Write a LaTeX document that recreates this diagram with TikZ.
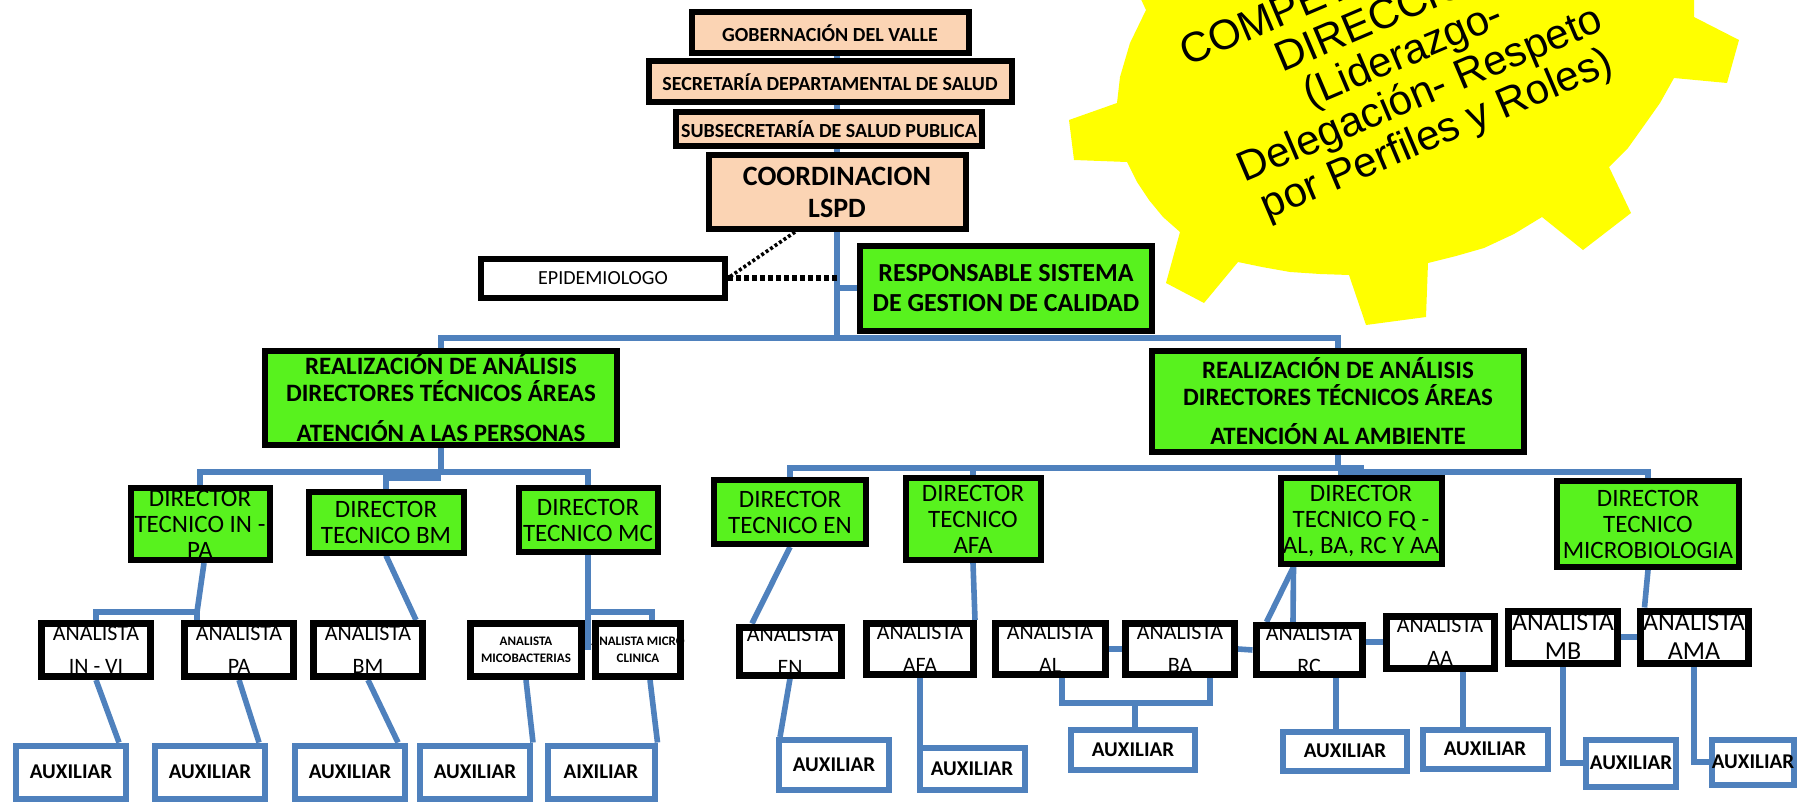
\documentclass[tikz,border=0pt]{standalone}
\usepackage{fontspec}
\setmainfont{Carlito}
\newfontfamily\arialf{Liberation Sans}
\usetikzlibrary{backgrounds}
\pgfdeclarelayer{bottom}
\pgfsetlayers{bottom,background,main}
\definecolor{peach}{RGB}{251,212,180}
\definecolor{lgreen}{RGB}{88,242,30}
\definecolor{lblue}{RGB}{79,129,189}
\definecolor{gyellow}{RGB}{255,255,0}
\tikzset{
  sz/.style 2 args={minimum width=#1*0.5pt, minimum height=#2*0.5pt},
  bk/.style={draw=black, line width=3pt, inner sep=0pt},
  topbox/.style={bk, fill=peach},
  grbox/.style={bk, fill=lgreen},
  whbox/.style={bk, fill=white},
  anbox/.style={draw=black, line width=3.5pt, fill=white, inner sep=0pt},
  auxbox/.style={draw=lblue, line width=3pt, fill=white, inner sep=0pt},
  ttop/.style={font=\bfseries\fontsize{10}{11}\selectfont, inner sep=0pt},
  tbig/.style={font=\bfseries\fontsize{14}{16}\selectfont, align=center, inner sep=0pt},
  tresp/.style={font=\bfseries\fontsize{13}{15}\selectfont, align=center, inner sep=0pt},
  treal/.style={font=\bfseries\fontsize{12.5}{13.5}\selectfont, align=center, inner sep=0pt},
  tdir/.style={font=\fontsize{12.5}{13}\selectfont, align=center, inner sep=0pt},
  tan/.style={font=\fontsize{11}{16.5}\selectfont, align=center, inner sep=0pt},
  tanb/.style={font=\fontsize{13}{14.5}\selectfont, align=center, inner sep=0pt},
  tans/.style={font=\bfseries\fontsize{6.5}{8.5}\selectfont, align=center, inner sep=0pt},
  taux/.style={font=\bfseries\fontsize{10.5}{12}\selectfont, inner sep=0pt},
  tepi/.style={font=\fontsize{10}{12}\selectfont, inner sep=0pt},
  conn/.style={draw=lblue, line width=2.8pt},
  dotl/.style={draw=black, line width=2.8pt, dash pattern=on 2.5pt off 1.5pt},
  dotd/.style={draw=black, line width=1.8pt, dash pattern=on 1.5pt off 1.2pt},
  gtxt/.style={font=\arialf\fontsize{21}{21.5}\selectfont, align=center, inner sep=0pt},
}
\begin{document}
\begin{tikzpicture}[x=0.5pt, y=-0.5pt]
\useasboundingbox (0,0) rectangle (1806,808);
\begin{pgfonlayer}{bottom}
\fill[white] (0,0) rectangle (1806,808);
\end{pgfonlayer}

% gear
\begin{scope}
\clip (0,0) rectangle (1806,808);
\fill[gyellow] (1139,-5) -- (1146,10) -- (1130,43) -- (1120,77) -- (1117,103) -- (1069,120) -- (1074,160) -- (1127,162) -- (1137,182) -- (1149,200) -- (1163,217) -- (1180,232) -- (1166,283) -- (1204,303) -- (1238,262) -- (1262,267) -- (1290,272) -- (1320,274) -- (1349,275) -- (1366,325) -- (1426,317) -- (1428,263) -- (1456,256) -- (1484,248) -- (1514,234) -- (1542,217) -- (1583,250) -- (1631,213) -- (1609,167) -- (1628,148) -- (1643,127) -- (1660,103) -- (1674,78) -- (1727,83) -- (1739,40) -- (1694,17) -- (1694,-5) -- cycle;
\node[gtxt, rotate=23] (geartext) at (1404,57) {COMPETENCIAS DE\\DIRECCIÓN\\(Liderazgo-\\Delegación- Respeto\\por Perfiles y Roles)};
\end{scope}

% top boxes
\node[topbox, sz={277}{41}, label={[ttop]center:GOBERNACIÓN DEL VALLE}] (gob) at (830,33) {};
\node[topbox, sz={363}{41}, label={[ttop]center:SECRETARÍA DEPARTAMENTAL DE SALUD}] (sec) at (830,82) {};
\node[topbox, sz={306}{34}, label={[ttop]center:SUBSECRETARÍA DE SALUD PUBLICA}] (sub) at (829,129) {};
\node[topbox, sz={257}{74}, label={[tbig]center:{COORDINACION\\LSPD}}] (coord) at (837,192) {};
\node[whbox, sz={244}{39}, label={[tepi]center:EPIDEMIOLOGO}] (epi) at (603,278) {};
\node[grbox, sz={292}{85}, label={[tresp]center:{RESPONSABLE SISTEMA\\DE GESTION DE CALIDAD}}] (resp) at (1006,288) {};

\node[grbox, sz={352}{94}, label={[treal]center:{REALIZACIÓN DE ANÁLISIS\\DIRECTORES TÉCNICOS ÁREAS\\[6.5pt]ATENCIÓN A LAS PERSONAS}}] (rp) at (441,398) {};
\node[grbox, sz={372}{101}, label={[treal]center:{REALIZACIÓN DE ANÁLISIS\\DIRECTORES TÉCNICOS ÁREAS\\[6pt]ATENCIÓN AL AMBIENTE}}] (ra) at (1338,401) {};

% directors
\node[grbox, sz={139}{72}, label={[tdir]center:{DIRECTOR\\TECNICO IN -\\PA}}] (dinpa) at (200,524) {};
\node[grbox, sz={155}{61}, label={[tdir]center:{DIRECTOR\\TECNICO BM}}] (dbm) at (386,522) {};
\node[grbox, sz={139}{64}, label={[tdir]center:{DIRECTOR\\TECNICO MC}}] (dmc) at (588,520) {};
\node[grbox, sz={152}{64}, label={[tdir]center:{DIRECTOR\\TECNICO EN}}] (den) at (790,512) {};
\node[grbox, sz={135}{82}, label={[tdir]center:{DIRECTOR\\TECNICO\\AFA}}] (dafa) at (973,519) {};
\node[grbox, sz={161}{86}, label={[tdir]center:{DIRECTOR\\TECNICO FQ -\\AL, BA, RC Y AA}}] (dfq) at (1361,521) {};
\node[grbox, sz={182}{86}, label={[tdir]center:{DIRECTOR\\TECNICO\\MICROBIOLOGIA}}] (dmicro) at (1648,524) {};

% analysts
\node[anbox, sz={109}{53}, label={[tan]center:{ANALISTA\\IN - VI}}] (ainvi) at (96,650) {};
\node[anbox, sz={109}{53}, label={[tan]center:{ANALISTA\\PA}}] (apa) at (239,650) {};
\node[anbox, sz={109}{53}, label={[tan]center:{ANALISTA\\BM}}] (abm) at (368,650) {};
\node[anbox, sz={111}{53}, label={[tans]center:{ANALISTA\\MICOBACTERIAS}}] (amico) at (526,650) {};
\node[anbox, sz={85}{53}, label={[tans]center:{ANALISTA MICRO\\CLINICA}}] (amicro) at (638,650) {};
\node[anbox, sz={102}{48}, label={[tan]center:{ANALISTA\\EN}}] (aen) at (790,651) {};
\node[anbox, sz={107}{51}, label={[tan]center:{ANALISTA\\AFA}}] (aafa) at (920,649) {};
\node[anbox, sz={110}{51}, label={[tan]center:{ANALISTA\\AL}}] (aal) at (1050,649) {};
\node[anbox, sz={109}{51}, label={[tan]center:{ANALISTA\\BA}}] (aba) at (1180,649) {};
\node[anbox, sz={106}{49}, label={[tan]center:{ANALISTA\\RC}}] (arc) at (1309,650) {};
\node[anbox, sz={108}{52}, label={[tan]center:{ANALISTA\\AA}}] (aaa) at (1440,642) {};
\node[anbox, sz={109}{52}, label={[tanb]center:{ANALISTA\\MB}}] (amb) at (1563,637) {};
\node[anbox, sz={108}{52}, label={[tanb]center:{ANALISTA\\AMA}}] (aama) at (1694,637) {};

% auxiliaries
\node[auxbox, sz={110}{53}, label={[taux]center:AUXILIAR}] (x1) at (71,772) {};
\node[auxbox, sz={110}{53}, label={[taux]center:AUXILIAR}] (x2) at (210,772) {};
\node[auxbox, sz={110}{53}, label={[taux]center:AUXILIAR}] (x3) at (350,772) {};
\node[auxbox, sz={110}{53}, label={[taux]center:AUXILIAR}] (x4) at (475,772) {};
\node[auxbox, sz={107}{53}, label={[taux]center:AIXILIAR}] (x5) at (601,772) {};
\node[auxbox, sz={110}{50}, label={[taux]center:AUXILIAR}] (xen) at (834,765) {};
\node[auxbox, sz={105}{42}, label={[taux]center:AUXILIAR}] (xafa) at (972,769) {};
\node[auxbox, sz={124}{40}, label={[taux]center:AUXILIAR}] (xalba) at (1133,750) {};
\node[auxbox, sz={124}{39}, label={[taux]center:AUXILIAR}] (xrc) at (1345,751) {};
\node[auxbox, sz={125}{39}, label={[taux]center:AUXILIAR}] (xaa) at (1485,749) {};
\node[auxbox, sz={90}{47}, label={[taux]center:AUXILIAR}] (xmb) at (1631,763) {};
\node[auxbox, sz={82}{45}, label={[taux]center:AUXILIAR}] (xama) at (1753,762) {};

\coordinate (bus) at (837,338);
\coordinate (lbus) at (441,472);
\coordinate (rbus) at (1338,468);
\coordinate (inpaj) at (197,612);
\coordinate (mcj) at (588,612);
\coordinate (albaj) at (1135,703);

\begin{pgfonlayer}{background}
\draw[conn] (gob.south -| coord.north) -- (coord.north);
\draw[conn] (coord.south) -- (bus);
\draw[conn] (resp.west) -- (resp.west -| bus);
\draw[conn] (rp.north) |- (bus) -| (ra.north);
\draw[conn] (rp.south) -- (lbus);
\draw[conn] (dinpa.north) |- (lbus) -| (dmc.north);
\draw[conn] (dbm.north) |- ([yshift=-3pt]lbus);
\draw[conn] (ra.south) -- (rbus);
\draw[conn] (den.north) |- (rbus) -| (dfq.north);
\draw[conn] (dafa.north) -- (dafa.north |- rbus);
\draw[conn] (dmicro.north) |- ([yshift=-2pt]rbus);
% directors to analysts
\draw[conn] ([xshift=2pt]dinpa.south) -- (inpaj) -| (ainvi.north);
\draw[conn] (inpaj) -- (inpaj |- apa.north);
\draw[conn] (dbm.south) -- ([xshift=-5pt]abm.north east);
\draw[conn] (dmc.south) -- (dmc.south |- amico.east);
\draw[conn] (mcj) -| ([xshift=7pt]amicro.north);
\draw[conn] (den.south) -- ([xshift=-19pt]aen.north);
\draw[conn] (dafa.south) -- ([xshift=-1pt]aafa.north east);
\draw[conn] ([xshift=8pt]dfq.south west) -- ([xshift=-8pt]arc.north);
\draw[conn] ([xshift=8pt]dfq.south west) -- ([xshift=7pt]arc.north west);
\draw[conn] (dmicro.south) -- ([xshift=4pt]aama.north west);
% analyst links
\draw[conn] (aal.east) -- (aba.west);
\draw[conn] (aba.east) -- (arc.west);
\draw[conn] (aaa.west -| arc.east) -- (aaa.west);
\draw[conn] (amb.east) -- (aama.west);
% analysts to auxiliaries
\draw[conn] (ainvi.south) -- ([xshift=-5pt]x1.north east);
\draw[conn] (apa.south) -- ([xshift=-4.5pt]x2.north east);
\draw[conn] (abm.south) -- ([xshift=-5pt]x3.north east);
\draw[conn] (amico.south) -- (x4.north east);
\draw[conn] ([xshift=6pt]amicro.south) -- (x5.north east);
\draw[conn] (aen.south) -- ([xshift=2pt]xen.north west);
\draw[conn] (aafa.south) -- (aafa.south |- xafa.north);
\draw[conn] ([xshift=6pt]aal.south) |- ([xshift=15pt]aba.south |- albaj) -- ([xshift=15pt]aba.south);
\draw[conn] (albaj) -- (albaj |- xalba.north);
\draw[conn] ([xshift=13.5pt]arc.south) -- ([xshift=13.5pt]arc.south |- xrc.north);
\draw[conn] ([xshift=11.5pt]aaa.south) -- ([xshift=11.5pt]aaa.south |- xaa.north);
\draw[conn] (amb.south) |- (xmb.west);
\draw[conn] (aama.south) |- (xama.west);
\end{pgfonlayer}

% dotted links
\draw[dotl] (epi.east) -- (epi.east -| bus);
\draw[dotd] ([xshift=-21pt]coord.south) -- (epi.east);
\end{tikzpicture}
\end{document}
